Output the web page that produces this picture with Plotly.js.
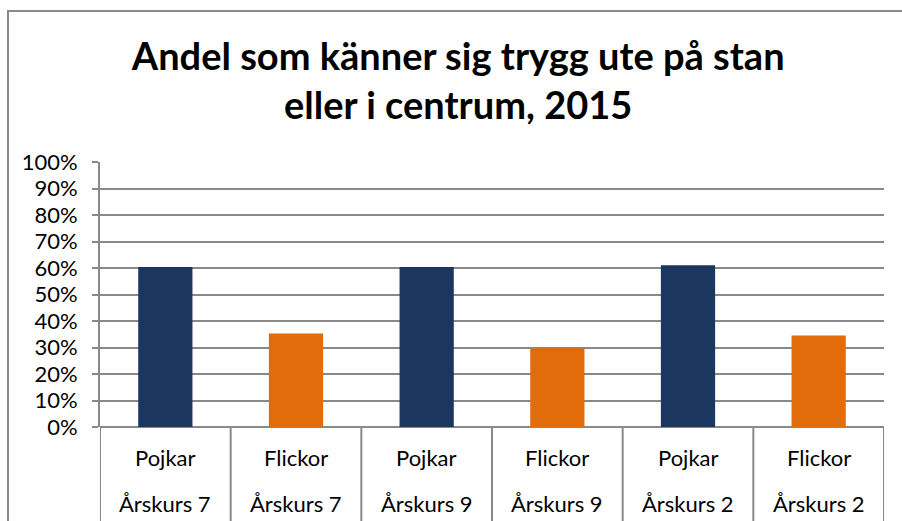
<!DOCTYPE html>
<html>
<head>
<meta charset="utf-8">
<script src="https://cdn.plot.ly/plotly-3.0.1.min.js"></script>
<style>
  html, body { margin: 0; padding: 0; background: #fff; overflow: hidden; }
  #wrap { position: relative; width: 902px; height: 521px; }
  #chart { position: absolute; left: 0; top: 0; width: 902px; height: 521px; }
  #frame { position: absolute; left: 7px; top: 10px; width: 1000px; height: 1000px;
           border-left: 2px solid #898989; border-top: 2px solid #898989; pointer-events: none; }
</style>
</head>
<body>
<div id="wrap">
  <div id="chart"></div>
  <div id="frame"></div>
</div>
<script>
// ---- data ----
const genders = ["Pojkar", "Flickor", "Pojkar", "Flickor", "Pojkar", "Flickor"];
const grades = ["Årskurs 7", "Årskurs 7", "Årskurs 9", "Årskurs 9", "Årskurs 2", "Årskurs 2"];
const values = [0.604, 0.353, 0.604, 0.297, 0.61, 0.345];
const barColors = ["#1B375F", "#E36C0A", "#1B375F", "#E36C0A", "#1B375F", "#E36C0A"];
const yTickVals = [0, 0.1, 0.2, 0.3, 0.4, 0.5, 0.6, 0.7, 0.8, 0.9, 1.0];
const yTickText = ["0%", "10%", "20%", "30%", "40%", "50%", "60%", "70%", "80%", "90%", "100%"];
const titleText = "Andel som känner sig trygg ute på stan<br>eller i centrum, 2015";

const xIdx = genders.map((_, i) => i);
const gray = "#898989";
const fontFam = "Lato, 'Open Sans', sans-serif";

const trace = {
  type: "bar",
  x: xIdx,
  y: values,
  marker: { color: barColors, line: { width: 0 } },
  hoverinfo: "skip"
};

// category cell dividers below the axis
const shapes = [];
for (let i = 0; i <= genders.length; i++) {
  shapes.push({
    type: "line", xref: "x", yref: "paper",
    x0: i - 0.5, x1: i - 0.5, y0: 0, y1: -0.6,
    line: { color: gray, width: 2 }
  });
}

const annotations = [];
genders.forEach((g, i) => {
  annotations.push({
    x: i, xref: "x", y: -0.115, yref: "paper", yanchor: "middle", xanchor: "center",
    text: g, showarrow: false, font: { family: fontFam, size: 22, color: "#000" }
  });
  annotations.push({
    x: i, xref: "x", y: -0.29, yref: "paper", yanchor: "middle", xanchor: "center",
    text: grades[i], showarrow: false, font: { family: fontFam, size: 22, color: "#000" }
  });
});

const layout = {
  width: 902, height: 521,
  margin: { l: 100, r: 18, t: 162, b: 94, pad: 0 },
  paper_bgcolor: "#fff", plot_bgcolor: "#fff",
  showlegend: false,
  bargap: 0.585,
  title: {
    text: titleText,
    x: 0.508, xanchor: "center", xref: "container",
    y: 1 - 70 / 521, yanchor: "top", yref: "container",
    font: { family: fontFam, size: 38, weight: "bold", color: "#000" }
  },
  xaxis: {
    range: [-0.5, genders.length - 0.5],
    showticklabels: false, ticks: "",
    showgrid: false, zeroline: false,
    showline: false, fixedrange: true
  },
  yaxis: {
    range: [0, 1],
    tickvals: yTickVals, ticktext: yTickText,
    ticks: "outside", ticklen: 6, tickwidth: 2, tickcolor: gray,
    ticklabelstandoff: 10,
    tickfont: { family: fontFam, size: 22, color: "#000" },
    showgrid: true, gridcolor: gray, gridwidth: 2,
    zeroline: true, zerolinecolor: gray, zerolinewidth: 2,
    showline: true, linecolor: gray, linewidth: 2,
    fixedrange: true
  },
  shapes: shapes,
  annotations: annotations
};

Plotly.newPlot("chart", [trace], layout, { displayModeBar: false, staticPlot: true });
</script>
</body>
</html>
